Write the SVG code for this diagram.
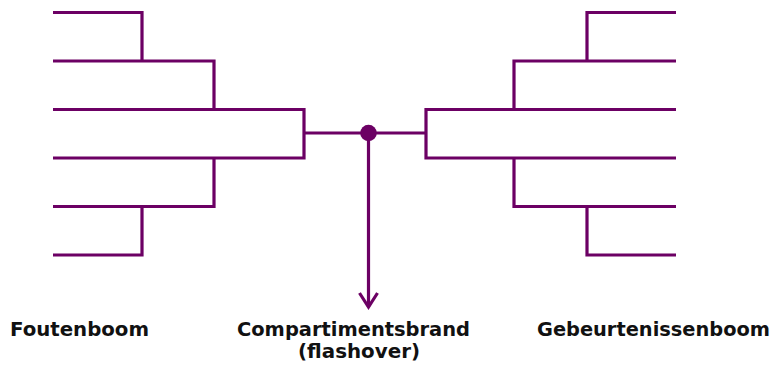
<svg xmlns="http://www.w3.org/2000/svg" width="773" height="367" viewBox="0 0 773 367">
  <style>
    .ln { fill: none; stroke: #6c0064; stroke-width: 3.2; stroke-linejoin: miter; stroke-linecap: butt; }
    .lbl { font-family: "DejaVu Sans", Verdana, sans-serif; font-weight: bold; font-size: 19.5px; fill: #111; }
  </style>
  <rect width="773" height="367" fill="#fff"/>

  <!-- fault tree (left) -->
  <g id="foutenboom">
    <path class="ln" d="M53,12.5 H142 V61 M53,61 H214 V109.5 M53,109.5 H304 V158 H53 M53,206.5 H214 V158 M53,255 H142 V206.5"/>
  </g>

  <!-- event tree (right) -->
  <g id="gebeurtenissenboom">
    <path class="ln" d="M676,12.5 H587 V61 M676,61 H514 V109.5 M676,109.5 H426 V158 H676 M676,206.5 H514 V158 M676,255 H587 V206.5"/>
  </g>

  <!-- central event -->
  <g id="compartimentsbrand">
    <circle cx="368.5" cy="133" r="8.3" fill="#6c0064"/>
  </g>

  <g id="connectors">
    <path class="ln" d="M304,133 H426"/>
    <path class="ln" d="M368.5,133 V307"/>
    <path class="ln" d="M359.5,293 L368.5,307 L377.5,293"/>
  </g>

  <g id="labels">
    <text class="lbl" x="10" y="336" textLength="139" lengthAdjust="spacingAndGlyphs">Foutenboom</text>
    <text class="lbl" x="237" y="336" textLength="233" lengthAdjust="spacingAndGlyphs">Compartimentsbrand</text>
    <text class="lbl" x="298" y="358" textLength="122" lengthAdjust="spacingAndGlyphs">(flashover)</text>
    <text class="lbl" x="537" y="336" textLength="233" lengthAdjust="spacingAndGlyphs">Gebeurtenissenboom</text>
  </g>
</svg>
